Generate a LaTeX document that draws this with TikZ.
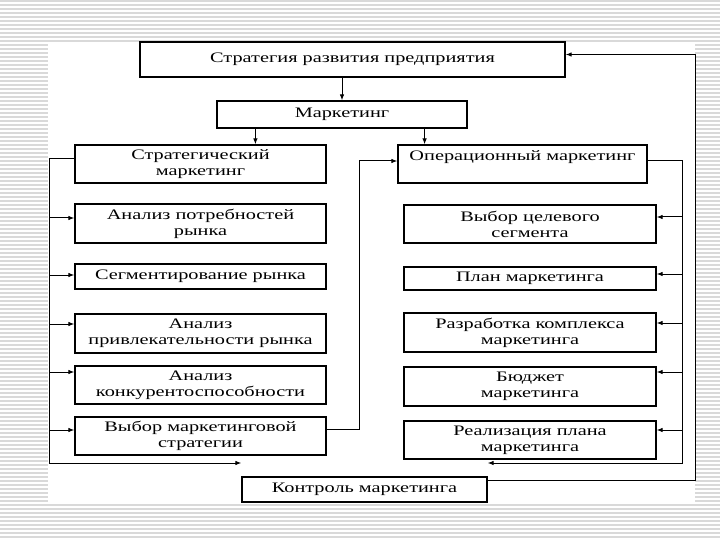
\documentclass[tikz,border=0pt]{standalone}
\usepackage{fontspec}
\setmainfont{Liberation Serif}[FakeStretch=1.4]
\usetikzlibrary{arrows.meta}

\tikzset{
  box/.style={draw, line width=1.2pt, fill=white, inner sep=0pt, align=center,
    font=\fontsize{14.5}{16}\selectfont},
  lbox/.style={box, minimum width=251pt},
  rbox/.style={box, minimum width=252pt},
  link/.style={line width=1pt},
  stripe/.style={line width=1.2pt, gray!30}
}

\begin{document}
\begin{tikzpicture}[x=1pt, y=-1pt, >={Latex[length=6pt,width=4.5pt]}]
			\useasboundingbox (0,0) rectangle (720,540);
			% slide background
			\foreach \y in {1,5,...,541}
				\draw[stripe] (0,\y) -- (720,\y);
			\fill[white] (48,42) rectangle (695,503);
			
			\node[box, minimum width=425pt, minimum height=35pt] (top) at (352.5,59.5) {Стратегия развития предприятия};
			\node[box, minimum width=250pt, minimum height=27pt] (mkt) at (342,114.5) {Маркетинг};
			\node[lbox, minimum height=38pt] (sm) at (200.5,164) {Стратегический\\маркетинг};
			\node[box, minimum width=249pt, minimum height=38pt] (om) at (522.5,164) {Операционный маркетинг\\\mbox{}};
			
			% strategic column
			\node[lbox, minimum height=39pt] (s1) at (200.5,223.5) {Анализ потребностей\\рынка};
			\node[lbox, minimum height=25pt] (s2) at (200.5,276.5) {Сегментирование рынка};
			\node[lbox, minimum height=39pt] (s3) at (200.5,333.5) {Анализ\\привлекательности рынка};
			\node[lbox, minimum height=38pt] (s4) at (200.5,385) {Анализ\\конкурентоспособности};
			\node[lbox, minimum height=38pt] (s5) at (200.5,436) {Выбор маркетинговой\\стратегии};
			
			% operational column
			\node[rbox, minimum height=38pt] (o1) at (530,224) {Выбор целевого\\сегмента};
			\node[rbox, minimum height=23pt] (o2) at (530,278.5) {План маркетинга};
			\node[rbox, minimum height=39pt] (o3) at (530,332.5) {Разработка комплекса\\маркетинга};
			\node[rbox, minimum height=39pt] (o4) at (530,386.5) {Бюджет\\маркетинга};
			\node[rbox, minimum height=38pt] (o5) at (530,440) {Реализация плана\\маркетинга};
			
			\node[box, minimum width=245pt, minimum height=25pt] (ctrl) at (364.5,489.5) {Контроль маркетинга};
			
			\coordinate (lb) at (49,463);
			\coordinate (rb) at (682,463);
			\coordinate (mb) at (359,429);
			\coordinate (ob) at (695,480);
			
			\draw[link, ->] (mkt.north |- top.south) -- (mkt.north);
			\draw[link, ->] ([xshift=39pt]mkt.south west) -- ([xshift=39pt]mkt.south west |- sm.north);
			\draw[link, ->] ([xshift=-43pt]mkt.south east) -- ([xshift=-43pt]mkt.south east |- om.north);
			
			% left bus
			\draw[link, ->] ([yshift=5pt]sm.west) -| (lb) -- (lb -| ctrl.west);
			\foreach \b/\y in {s1/218,s2/275,s3/324,s4/372,s5/430}
				\draw[link, ->] (lb |- 0,\y) -- (\b.west |- 0,\y);
			
			% right bus
			\draw[link, ->] ([yshift=3pt]om.east) -| (rb) -- (rb -| ctrl.east);
			\foreach \b/\y in {o1/217,o2/274,o3/323,o4/372,o5/430}
				\draw[link, ->] (rb |- 0,\y) -- (\b.east |- 0,\y);
			
			\draw[link, ->] (s5.east |- mb) -- (mb) |- ([yshift=3pt]om.west);
			\draw[link, ->] (ctrl.east |- ob) -- (ob) |- ([yshift=5pt]top.east);
\end{tikzpicture}
\end{document}
